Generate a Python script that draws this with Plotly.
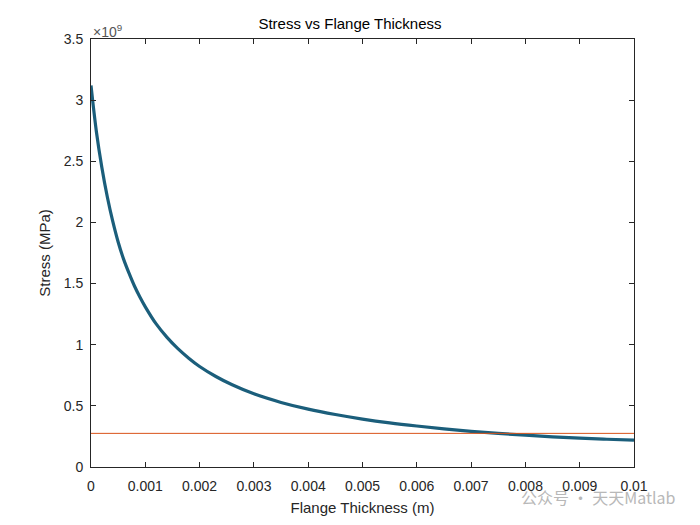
import plotly.graph_objects as go

# Data
thickness_m = [0, 0.0001, 0.0002, 0.0003, 0.0004, 0.0005, 0.0006, 0.0007, 0.0008,
               0.0009, 0.001, 0.0012, 0.0014, 0.0016, 0.0018, 0.002, 0.0023, 0.0026,
               0.003, 0.0035, 0.004, 0.0045, 0.005, 0.0055, 0.006, 0.0065, 0.007,
               0.0075, 0.008, 0.0085, 0.009, 0.0095, 0.01]
stress = [3.12e9, 2.74e9, 2.45e9, 2.21e9, 2.01e9, 1.84e9, 1.70e9, 1.585e9, 1.48e9,
          1.39e9, 1.31e9, 1.17e9, 1.06e9, 0.968e9, 0.89e9, 0.822e9, 0.74e9, 0.672e9,
          0.598e9, 0.528e9, 0.473e9, 0.429e9, 0.392e9, 0.361e9, 0.335e9, 0.312e9, 0.292e9,
          0.275e9, 0.26e9, 0.247e9, 0.236e9, 0.227e9, 0.219e9]
limit_x = [0, 0.01]
limit_stress = [0.275e9, 0.275e9]

x_ticks = [0, 0.001, 0.002, 0.003, 0.004, 0.005, 0.006, 0.007, 0.008, 0.009, 0.01]
x_ticktext = ["0", "0.001", "0.002", "0.003", "0.004", "0.005", "0.006", "0.007",
              "0.008", "0.009", "0.01"]
y_ticks = [0, 0.5e9, 1e9, 1.5e9, 2e9, 2.5e9, 3e9, 3.5e9]
y_ticktext = ["0", "0.5", "1", "1.5", "2", "2.5", "3", "3.5"]

axis_color = "#262626"
font_family = "Liberation Sans, Arial, sans-serif"

fig = go.Figure()
fig.add_trace(go.Scatter(x=thickness_m, y=stress, mode="lines",
                         line=dict(color="#1b5e7b", width=3.2, shape="spline", smoothing=1.0),
                         showlegend=False, hoverinfo="skip"))
fig.add_trace(go.Scatter(x=limit_x, y=limit_stress, mode="lines",
                         line=dict(color="#D95319", width=1),
                         showlegend=False, hoverinfo="skip"))

axis_common = dict(showgrid=False, zeroline=False, showline=True, linecolor=axis_color,
                   linewidth=1, mirror="ticks", ticks="inside", ticklen=5,
                   tickcolor=axis_color, tickwidth=1,
                   tickfont=dict(family=font_family, size=14, color=axis_color))

fig.update_layout(
    width=700, height=525,
    margin=dict(l=91, r=66, t=39, b=58),
    paper_bgcolor="white", plot_bgcolor="white",
    title=dict(text="Stress vs Flange Thickness", x=0.5, xanchor="center",
               y=1 - 24 / 525, yanchor="middle",
               font=dict(family=font_family, size=15, color="#000000")),
    xaxis=dict(range=[0, 0.01], tickvals=x_ticks, ticktext=x_ticktext,
               ticklabelstandoff=6,
               title=dict(text="Flange Thickness (m)", standoff=9,
                          font=dict(family=font_family, size=15, color=axis_color)),
               **axis_common),
    yaxis=dict(range=[0, 3.5e9], tickvals=y_ticks, ticktext=y_ticktext,
               ticklabelstandoff=4,
               title=dict(text="Stress (MPa)", standoff=9,
                          font=dict(family=font_family, size=15, color=axis_color)),
               **axis_common),
    annotations=[
        dict(text="×10<sup>9</sup>", xref="paper", yref="paper", x=0, y=1,
             xanchor="left", yanchor="bottom", showarrow=False, yshift=-3,
             font=dict(family=font_family, size=14, color="#555555")),
        dict(text="公众号 · 天天Matlab", xref="paper", yref="paper",
             x=1 + 44 / 543, y=-30 / 428, xanchor="right", yanchor="middle",
             showarrow=False,
             font=dict(family="Noto Sans CJK SC, sans-serif", size=16, color="#b8b8b8")),
    ],
)

fig.write_html("out.html")
